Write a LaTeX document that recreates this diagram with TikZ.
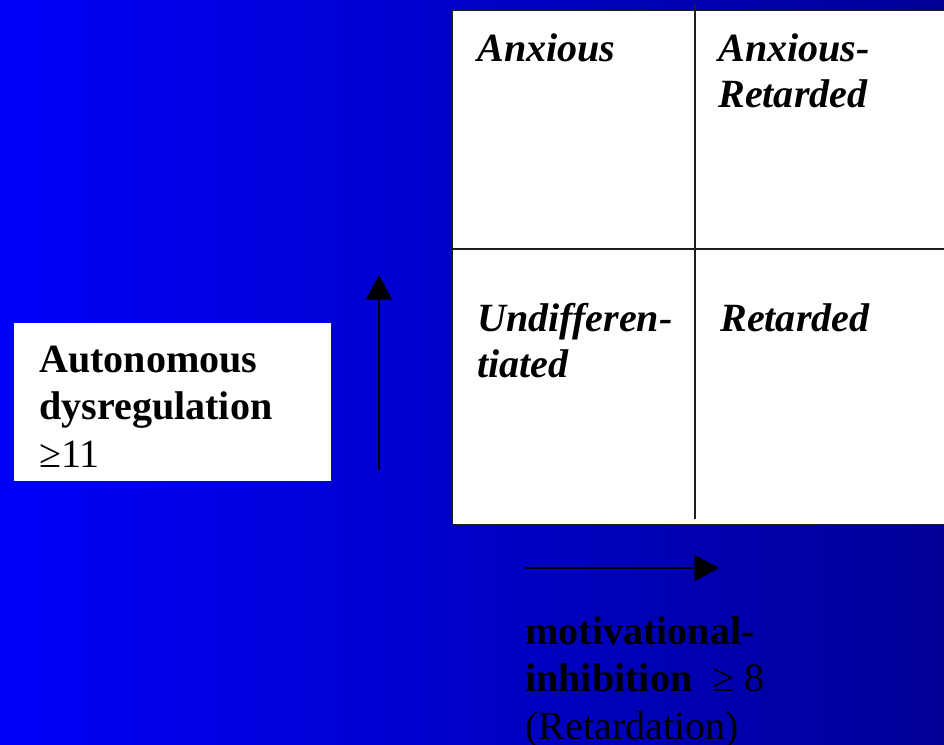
\documentclass[tikz,border=0pt]{standalone}
\usepackage{fontspec}
\setmainfont{Liberation Serif}
\usetikzlibrary{arrows.meta}
\definecolor{bgleft}{RGB}{0,0,250}
\definecolor{bgright}{RGB}{0,0,150}
\definecolor{rule}{RGB}{30,30,30}

\begin{document}
\begin{tikzpicture}[x=0.025cm,y=-0.025cm]
    \tikzset{
      cell/.style={anchor=base west,inner sep=0,align=left,
        font=\fontsize{28.5}{32.6}\selectfont\bfseries\itshape},
      label/.style={anchor=base west,inner sep=0,align=left,
        font=\fontsize{28.5}{33.5}\selectfont},
      axis/.style={line width=1.2pt,-{Triangle[length=17.5pt,width=18.5pt]}}
    }
    % background
    \shade[left color=bgleft,right color=bgright] (0,0) rectangle (944,744);
    \useasboundingbox (0,0) rectangle (944,744);

    % the four-way table
    \fill[white] (452,10) rectangle (944,524);
    \draw[rule,line width=0.6pt] (944,10) -- (452,10) -- (452,524) -- (944,524);
    \draw[rule,line width=0.8pt] (695,4) -- (695,519);
    \draw[rule,line width=0.8pt] (452,249) -- (944,249);

    % nodes sit on the baseline of their last line
    \node[cell] (anx) at (477,61) {Anxious};
    \node[cell] (anxret) at (718,107) {Anxious-\\Retarded};
    \node[cell] (undiff) at (477,377) {Undifferen-\\tiated};
    \node[cell] (ret) at (720,331) {Retarded};

    % vertical axis
    \fill[white] (14,323) rectangle (331,481);
    \node[label] (auto) at (39,467) {\textbf{Autonomous}\\\textbf{dysregulation}\\≥11};
    \coordinate (vlow) at (379,470);
    \coordinate (vtop) at (379,275);
    \draw[axis] (vlow) -- (vtop);

    % horizontal axis
    \coordinate (hleft) at (525,568);
    \coordinate (hright) at (719,568);
    \draw[axis,line width=1pt] (hleft) -- (hright);
    \node[label] (motiv) at (525,739) {\textbf{motivational-}\\\textbf{inhibition}\ \ ≥ 8\\(Retardation)};
\end{tikzpicture}
\end{document}
